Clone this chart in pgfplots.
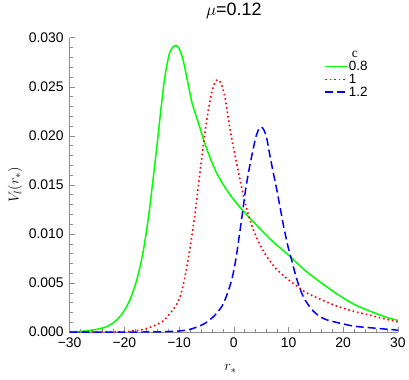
\documentclass[border=0pt]{standalone}
\usepackage{fontspec}
\setmainfont{Liberation Sans}
\newfontfamily\serif{Liberation Serif}
\usepackage{pgfplots}
\pgfplotsset{compat=1.18}

\definecolor{cgreen}{rgb}{0,1,0}
\definecolor{cred}{rgb}{1,0,0}
\definecolor{cblue}{rgb}{0,0,1}

\begin{document}
\begin{tikzpicture}
\begin{axis}[
    scale only axis,
    width=330pt, height=296pt,
    xmin=-30, xmax=30, ymin=0, ymax=0.030,
    axis lines*=left,
    axis line style={black!45, line width=0.6pt},
    tick style={black!45, line width=0.5pt},
    tick align=inside,
    major tick length=5pt, minor tick length=3pt,
    xtick={-30,-20,-10,0,10,20,30},
    xticklabels={−30,−20,−10,0,10,20,30},
    ytick={0,0.005,0.01,0.015,0.02,0.025,0.03},
    yticklabels={0.000,0.005,0.010,0.015,0.020,0.025,0.030},
    minor x tick num=4, minor y tick num=4,
    scaled y ticks=false,
    tick label style={font=\fontsize{14}{16}\selectfont},
    yticklabel style={xshift=-2.5pt},
    xticklabel style={yshift=-2.5pt},
    title={$\mu$=0.12},
    title style={font=\fontsize{18}{20}\selectfont, at={(axis description cs:0.5,1.054)}, anchor=base},
    xlabel={$r_*$},
    xlabel style={font=\fontsize{15}{17}\selectfont, at={(axis description cs:0.49,-0.1316)}, anchor=base},
    ylabel={$V_l(r_*)$},
    ylabel style={font=\fontsize{15}{17}\selectfont, at={(axis description cs:-0.166,0.5)}, anchor=center},
    legend cell align=left,
    legend style={draw=none, fill=none, at={(rel axis cs:0.776,0.958)}, anchor=north west,
        inner sep=0pt, row sep=0pt, nodes={inner sep=1pt},
        font=\fontsize{13.5}{14}\selectfont},
    legend image code/.code={\draw[#1] (0pt,0pt) -- (22pt,0pt);},
]
\addlegendimage{empty legend}
\addlegendentry{\hspace{3pt}{\serif c}}
\addlegendimage{cgreen, line width=1.3pt}
\addlegendentry{0.8}
\addlegendimage{cred, line width=1.5pt, dash pattern=on 1.6pt off 2.9pt}
\addlegendentry{1}
\addlegendimage{cblue, line width=1.4pt, dash pattern=on 8pt off 4pt}
\addlegendentry{1.2}

\addplot[forget plot, cgreen, line width=1.5pt, smooth, tension=0.5] coordinates {
    (-30,0.00003) (-28,0.00007) (-26.4,0.00017) (-25,0.00029) (-23.9,0.00044)
    (-22.8,0.00068) (-21.8,0.00105) (-20.8,0.0016) (-19.8,0.0024) (-18.9,0.0034)
    (-17.9,0.0050) (-17.2,0.0065) (-16.5,0.0084) (-15.6,0.0117) (-14.85,0.0151)
    (-14.0,0.0192) (-13.3,0.0228) (-12.55,0.0262) (-11.8,0.0283) (-11.2,0.0290)
    (-10.6,0.0292) (-10.0,0.0289) (-9.3,0.0278) (-8.8,0.0265) (-8.2,0.0249)
    (-7.6,0.0233) (-6.4,0.0212) (-5.5,0.0196) (-4.5,0.0180) (-3.3,0.0164)
    (-2.0,0.0151) (-0.3,0.0137) (1.8,0.0123) (4.5,0.0107) (7.0,0.0093)
    (10.3,0.0077) (13.0,0.0063) (16.05,0.0050) (19.1,0.0038) (22.1,0.0028)
    (25.1,0.0021) (28,0.0015) (30,0.0012)
};

\addplot[forget plot, cred, line width=1.6pt, dash pattern=on 1.6pt off 2.9pt, smooth, tension=0.5] coordinates {
    (-30,0.00001) (-25,0.00002) (-20.3,0.00005) (-18,0.00015) (-16.7,0.00026)
    (-14.8,0.0006) (-13.0,0.0011) (-11.8,0.0018) (-10.6,0.0027) (-9.8,0.0036)
    (-9.1,0.0052) (-8.6,0.0066) (-8.05,0.0084) (-7.1,0.0120) (-6.5,0.0148)
    (-5.8,0.0180) (-5.15,0.0208) (-4.5,0.0231) (-3.9,0.0247) (-3.4,0.0255)
    (-2.85,0.0257) (-2.3,0.0253) (-1.6,0.0239) (-0.9,0.0214) (-0.2,0.0192)
    (0.6,0.0170) (1.3,0.0151) (2.1,0.0131) (2.8,0.0117) (3.6,0.0104)
    (4.6,0.0091) (5.8,0.0079) (7.5,0.0066) (9.0,0.0058) (10.3,0.0052)
    (11.8,0.0046) (13.0,0.0041) (16.0,0.0033) (19.1,0.0026) (22.1,0.0021)
    (25.1,0.0017) (28,0.0013) (30,0.00105)
};

\addplot[forget plot, cblue, line width=1.5pt, dash pattern=on 8pt off 4pt, smooth, tension=0.5] coordinates {
    (-30,0.000005) (-20,0.00001) (-14.2,0.00003) (-10.5,0.0001) (-8.2,0.00026)
    (-6.4,0.0006) (-5.15,0.00094) (-3.5,0.0017) (-2.1,0.0027) (-1.2,0.0039)
    (-0.3,0.0055) (0.4,0.0075) (1.0,0.0098) (1.6,0.0122) (2.1,0.0143)
    (2.7,0.0163) (3.3,0.0180) (4.0,0.0198) (4.5,0.0206) (5.0,0.0209)
    (5.5,0.0206) (6.0,0.0198) (6.6,0.0180) (7.2,0.0163) (7.9,0.0144)
    (8.5,0.0126) (9.1,0.0108) (9.6,0.0095) (10.0,0.0085) (10.6,0.0073)
    (11.2,0.0060) (11.8,0.0049) (12.4,0.0040) (13.0,0.0033) (14.0,0.0025)
    (14.8,0.0020) (16.0,0.0015) (17.3,0.0012) (19.5,0.0009) (22.1,0.0006)
    (26,0.0004) (30,0.0002)
};

\coordinate (ll) at (rel axis cs:0,0);
\coordinate (ur) at (rel axis cs:1,1);
\end{axis}
\path (ll) ++(-70pt,-48pt);
\path (ur) ++(9pt,33pt);
\end{tikzpicture}
\end{document}
